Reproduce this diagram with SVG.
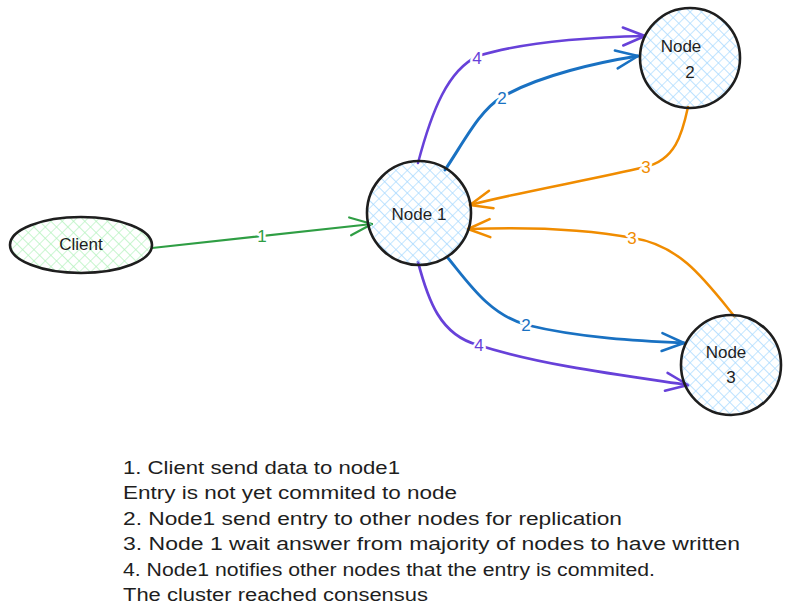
<svg xmlns="http://www.w3.org/2000/svg" width="792" height="616" viewBox="0 0 792 616">
<defs>
<pattern id="hb" width="8" height="8" patternUnits="userSpaceOnUse" patternTransform="rotate(45)">
<path d="M0,0 L0,8 M0,0 L8,0" stroke="#a5d8ff" stroke-width="1.3"/>
</pattern>
<pattern id="hg" width="8" height="8" patternUnits="userSpaceOnUse" patternTransform="rotate(45)">
<path d="M0,0 L0,8 M0,0 L8,0" stroke="#b2f2bb" stroke-width="1.3"/>
</pattern>
<marker id="ag" markerUnits="userSpaceOnUse" viewBox="-24 -12 28 24" markerWidth="28" markerHeight="24" refX="0" refY="0" orient="auto"><path d="M-22,-9 L0,0 L-22,9" fill="none" stroke="#2f9e44" stroke-width="2.2" stroke-linecap="round" stroke-linejoin="round"/></marker>
<marker id="ap" markerUnits="userSpaceOnUse" viewBox="-24 -12 28 24" markerWidth="28" markerHeight="24" refX="0" refY="0" orient="auto"><path d="M-22,-9 L0,0 L-22,9" fill="none" stroke="#6741d9" stroke-width="2.5" stroke-linecap="round" stroke-linejoin="round"/></marker>
<marker id="ab" markerUnits="userSpaceOnUse" viewBox="-24 -12 28 24" markerWidth="28" markerHeight="24" refX="0" refY="0" orient="auto"><path d="M-22,-9 L0,0 L-22,9" fill="none" stroke="#1971c2" stroke-width="2.5" stroke-linecap="round" stroke-linejoin="round"/></marker>
<marker id="ao" markerUnits="userSpaceOnUse" viewBox="-24 -12 28 24" markerWidth="28" markerHeight="24" refX="0" refY="0" orient="auto"><path d="M-22,-9 L0,0 L-22,9" fill="none" stroke="#f08c00" stroke-width="2.5" stroke-linecap="round" stroke-linejoin="round"/></marker>
</defs>
<style>
.node{stroke:#1e1e1e;stroke-width:2.6}
.lbl{font-family:"Liberation Sans",Arial,sans-serif;font-size:17px;fill:#1e1e1e;text-anchor:middle}
.el{fill:none;stroke-linecap:round}
.et{font-family:"Liberation Sans",Arial,sans-serif;font-size:17px;text-anchor:middle;stroke:#ffffff;stroke-width:5;paint-order:stroke;stroke-linejoin:round}
.note{font-family:"Liberation Sans",Arial,sans-serif;font-size:17.5px;fill:#1e1e1e}
</style>
<rect width="792" height="616" fill="#ffffff"/>
<g id="connectors">
<path class="el" d="M152,248 L372,224" stroke="#2f9e44" stroke-width="2.2" marker-end="url(#ag)"/>
<path class="el" d="M418,163 C432,110 448,70 478,56 C530,40 600,37 645,36" stroke="#6741d9" stroke-width="2.5" marker-end="url(#ap)"/>
<path class="el" d="M445,170 C465,140 480,110 502,97 C540,75 600,62 638,56" stroke="#1971c2" stroke-width="3" marker-end="url(#ab)"/>
<path class="el" d="M688,107 C682,135 675,160 645,167 C590,180 520,192 470,205" stroke="#f08c00" stroke-width="2.5" marker-end="url(#ao)"/>
<path class="el" d="M735,317 C705,280 680,245 633,238 C580,228 520,227 468,229" stroke="#f08c00" stroke-width="2.5" marker-end="url(#ao)"/>
<path class="el" d="M448,258 C470,285 490,315 527,325 C580,338 640,341 684,343" stroke="#1971c2" stroke-width="2.8" marker-end="url(#ab)"/>
<path class="el" d="M418,262 C428,300 440,335 478,345 C540,365 620,375 688,385" stroke="#6741d9" stroke-width="2.8" marker-end="url(#ap)"/>
<text class="et" x="262" y="242" fill="#2f9e44">1</text>
<text class="et" x="477" y="64" fill="#6741d9">4</text>
<text class="et" x="502" y="104" fill="#1971c2">2</text>
<text class="et" x="646" y="173" fill="#f08c00">3</text>
<text class="et" x="632" y="244" fill="#f08c00">3</text>
<text class="et" x="526" y="331" fill="#1971c2">2</text>
<text class="et" x="479" y="351" fill="#6741d9">4</text>
</g>
<g id="client">
<ellipse cx="81" cy="245" rx="71" ry="28" fill="url(#hg)" class="node"/>
<text class="lbl" x="81" y="250">Client</text>
</g>
<g id="node1">
<circle cx="419" cy="213" r="52" fill="url(#hb)" class="node"/>
<text class="lbl" x="419" y="220">Node 1</text>
</g>
<g id="node2">
<circle cx="690" cy="58" r="50" fill="url(#hb)" class="node"/>
<text class="lbl" x="681" y="52">Node</text>
<text class="lbl" x="690" y="78">2</text>
</g>
<g id="node3">
<circle cx="731" cy="365" r="50" fill="url(#hb)" class="node"/>
<text class="lbl" x="726" y="358">Node</text>
<text class="lbl" x="731" y="383">3</text>
</g>
<g id="notes">
<text class="note" x="123" y="474" textLength="277" lengthAdjust="spacingAndGlyphs">1. Client send data to node1</text>
<text class="note" x="123" y="499" textLength="334" lengthAdjust="spacingAndGlyphs">Entry is not yet commited to node</text>
<text class="note" x="123" y="525" textLength="499" lengthAdjust="spacingAndGlyphs">2. Node1 send entry to other nodes for replication</text>
<text class="note" x="123" y="550" textLength="617" lengthAdjust="spacingAndGlyphs">3. Node 1 wait answer from majority of nodes to have written</text>
<text class="note" x="123" y="576" textLength="532" lengthAdjust="spacingAndGlyphs">4. Node1 notifies other nodes that the entry is commited.</text>
<text class="note" x="123" y="601" textLength="305" lengthAdjust="spacingAndGlyphs">The cluster reached consensus</text>
</g>
</svg>
